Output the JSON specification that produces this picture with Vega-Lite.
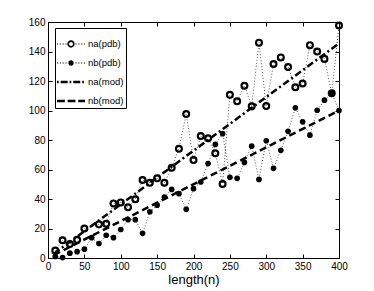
{
  "$schema": "https://vega.github.io/schema/vega-lite/v6.json",
  "width": 291,
  "height": 236,
  "autosize": "none",
  "padding": {"left": 48, "top": 22, "right": 35, "bottom": 33},
  "background": "white",
  "config": {
    "view": {"stroke": "black", "strokeWidth": 1},
    "font": "Liberation Sans",
    "axis": {"grid": false, "domainColor": "black", "tickColor": "black", "labelColor": "black", "labelFont": "Liberation Sans", "labelFontSize": 10, "titleFont": "Liberation Sans", "titleColor": "black", "titleFontWeight": "normal"}
  },
  "data": {
    "values": [
      {"n": 10, "v": 5, "series": "na(pdb)"},
      {"n": 20, "v": 12, "series": "na(pdb)"},
      {"n": 30, "v": 9.5, "series": "na(pdb)"},
      {"n": 40, "v": 12.3, "series": "na(pdb)"},
      {"n": 50, "v": 20, "series": "na(pdb)"},
      {"n": 70, "v": 22.8, "series": "na(pdb)"},
      {"n": 80, "v": 23.2, "series": "na(pdb)"},
      {"n": 90, "v": 37, "series": "na(pdb)"},
      {"n": 100, "v": 37.7, "series": "na(pdb)"},
      {"n": 110, "v": 34.4, "series": "na(pdb)"},
      {"n": 120, "v": 39.8, "series": "na(pdb)"},
      {"n": 130, "v": 52.9, "series": "na(pdb)"},
      {"n": 140, "v": 51, "series": "na(pdb)"},
      {"n": 150, "v": 54, "series": "na(pdb)"},
      {"n": 160, "v": 51, "series": "na(pdb)"},
      {"n": 170, "v": 61.2, "series": "na(pdb)"},
      {"n": 180, "v": 74.1, "series": "na(pdb)"},
      {"n": 190, "v": 97.6, "series": "na(pdb)"},
      {"n": 200, "v": 66.4, "series": "na(pdb)"},
      {"n": 210, "v": 82.7, "series": "na(pdb)"},
      {"n": 220, "v": 81.2, "series": "na(pdb)"},
      {"n": 230, "v": 71, "series": "na(pdb)"},
      {"n": 240, "v": 50.2, "series": "na(pdb)"},
      {"n": 250, "v": 110.6, "series": "na(pdb)"},
      {"n": 260, "v": 106.3, "series": "na(pdb)"},
      {"n": 270, "v": 116.8, "series": "na(pdb)"},
      {"n": 280, "v": 102.8, "series": "na(pdb)"},
      {"n": 290, "v": 146, "series": "na(pdb)"},
      {"n": 300, "v": 103, "series": "na(pdb)"},
      {"n": 310, "v": 131.5, "series": "na(pdb)"},
      {"n": 320, "v": 136, "series": "na(pdb)"},
      {"n": 330, "v": 129.5, "series": "na(pdb)"},
      {"n": 340, "v": 115.8, "series": "na(pdb)"},
      {"n": 350, "v": 118.3, "series": "na(pdb)"},
      {"n": 360, "v": 144.3, "series": "na(pdb)"},
      {"n": 370, "v": 140, "series": "na(pdb)"},
      {"n": 380, "v": 135, "series": "na(pdb)"},
      {"n": 390, "v": 111.7, "series": "na(pdb)"},
      {"n": 400, "v": 157.6, "series": "na(pdb)"},
      {"n": 10, "v": 1, "series": "nb(pdb)"},
      {"n": 20, "v": 0.3, "series": "nb(pdb)"},
      {"n": 30, "v": 3.3, "series": "nb(pdb)"},
      {"n": 40, "v": 4.3, "series": "nb(pdb)"},
      {"n": 50, "v": 6, "series": "nb(pdb)"},
      {"n": 60, "v": 13.8, "series": "nb(pdb)"},
      {"n": 70, "v": 9.8, "series": "nb(pdb)"},
      {"n": 80, "v": 15.4, "series": "nb(pdb)"},
      {"n": 90, "v": 13.8, "series": "nb(pdb)"},
      {"n": 100, "v": 19.3, "series": "nb(pdb)"},
      {"n": 110, "v": 26, "series": "nb(pdb)"},
      {"n": 120, "v": 26, "series": "nb(pdb)"},
      {"n": 130, "v": 16.7, "series": "nb(pdb)"},
      {"n": 140, "v": 31.3, "series": "nb(pdb)"},
      {"n": 150, "v": 35.8, "series": "nb(pdb)"},
      {"n": 160, "v": 41.3, "series": "nb(pdb)"},
      {"n": 170, "v": 46.5, "series": "nb(pdb)"},
      {"n": 180, "v": 43.6, "series": "nb(pdb)"},
      {"n": 190, "v": 33, "series": "nb(pdb)"},
      {"n": 200, "v": 47, "series": "nb(pdb)"},
      {"n": 210, "v": 51.5, "series": "nb(pdb)"},
      {"n": 220, "v": 64, "series": "nb(pdb)"},
      {"n": 230, "v": 77, "series": "nb(pdb)"},
      {"n": 240, "v": 84.3, "series": "nb(pdb)"},
      {"n": 250, "v": 54.7, "series": "nb(pdb)"},
      {"n": 260, "v": 54, "series": "nb(pdb)"},
      {"n": 270, "v": 64.8, "series": "nb(pdb)"},
      {"n": 280, "v": 75.8, "series": "nb(pdb)"},
      {"n": 290, "v": 53.3, "series": "nb(pdb)"},
      {"n": 300, "v": 79.5, "series": "nb(pdb)"},
      {"n": 310, "v": 60.8, "series": "nb(pdb)"},
      {"n": 320, "v": 73, "series": "nb(pdb)"},
      {"n": 330, "v": 85.9, "series": "nb(pdb)"},
      {"n": 340, "v": 101.8, "series": "nb(pdb)"},
      {"n": 350, "v": 92.3, "series": "nb(pdb)"},
      {"n": 360, "v": 83.3, "series": "nb(pdb)"},
      {"n": 370, "v": 100.2, "series": "nb(pdb)"},
      {"n": 380, "v": 107, "series": "nb(pdb)"},
      {"n": 390, "v": 111.7, "series": "nb(pdb)"},
      {"n": 400, "v": 100, "series": "nb(pdb)"},
      {"n": 8, "v": 2.9, "series": "na(mod)"},
      {"n": 400, "v": 145.5, "series": "na(mod)"},
      {"n": 8, "v": 2, "series": "nb(mod)"},
      {"n": 400, "v": 100, "series": "nb(mod)"}
    ]
  },
  "resolve": {"axis": {"x": "independent", "y": "independent"}},
  "layer": [
    {
      "transform": [{"filter": "indexof(['na(pdb)','nb(pdb)'], datum.series) >= 0"}],
      "mark": {"type": "line", "stroke": "#555555", "strokeWidth": 1, "strokeDash": [1, 2]},
      "encoding": {
        "x": {"field": "n", "type": "quantitative", "scale": {"domain": [0, 400], "nice": false, "zero": false},
          "axis": {"orient": "bottom", "values": [0, 50, 100, 150, 200, 250, 300, 350, 400], "tickSize": -4, "labelPadding": 7, "labelFlush": false, "labelOverlap": false, "title": "length(n)", "titleFontSize": 13, "titlePadding": 2}},
        "y": {"field": "v", "type": "quantitative", "scale": {"domain": [0, 160], "nice": false, "zero": false},
          "axis": {"orient": "left", "values": [0, 20, 40, 60, 80, 100, 120, 140, 160], "tickSize": -4, "labelPadding": 7, "labelFlush": false, "labelOverlap": false, "title": null}},
        "detail": {"field": "series"}
      }
    },
    {
      "transform": [{"filter": "datum.series == 'na(pdb)'"}],
      "mark": {"type": "point", "shape": "circle", "filled": false, "stroke": "black", "strokeWidth": 2.2, "size": 34, "opacity": 1},
      "encoding": {
        "x": {"field": "n", "type": "quantitative", "axis": null},
        "y": {"field": "v", "type": "quantitative", "axis": null}
      }
    },
    {
      "transform": [{"filter": "datum.series == 'nb(pdb)'"}],
      "mark": {"type": "circle", "color": "black", "size": 32, "opacity": 1},
      "encoding": {
        "x": {"field": "n", "type": "quantitative", "axis": null},
        "y": {"field": "v", "type": "quantitative", "axis": null}
      }
    },
    {
      "transform": [{"filter": "datum.series == 'na(mod)'"}],
      "mark": {"type": "line", "stroke": "black", "strokeWidth": 2.5, "strokeDash": [7, 3, 2, 3]},
      "encoding": {
        "x": {"field": "n", "type": "quantitative", "axis": null},
        "y": {"field": "v", "type": "quantitative", "axis": null}
      }
    },
    {
      "transform": [{"filter": "datum.series == 'nb(mod)'"}],
      "mark": {"type": "line", "stroke": "black", "strokeWidth": 2.5, "strokeDash": [7, 4]},
      "encoding": {
        "x": {"field": "n", "type": "quantitative",
          "axis": {"orient": "top", "values": [0, 50, 100, 150, 200, 250, 300, 350, 400], "tickSize": -4, "labels": false, "title": null}},
        "y": {"field": "v", "type": "quantitative",
          "axis": {"orient": "right", "values": [0, 20, 40, 60, 80, 100, 120, 140, 160], "tickSize": -4, "labels": false, "title": null}}
      }
    },
    {
      "transform": [{"filter": "false"}],
      "mark": {"type": "point", "filled": true, "color": "black", "opacity": 1},
      "encoding": {
        "x": {"field": "n", "type": "quantitative", "axis": null},
        "y": {"field": "v", "type": "quantitative", "axis": null},
        "shape": {
          "field": "series",
          "type": "nominal",
          "scale": {
            "domain": ["na(pdb)", "nb(pdb)", "na(mod)", "nb(mod)"],
            "range": [
              "M-1,-0.04h0.08v0.08h-0.08ZM-0.8,-0.04h0.08v0.08h-0.08ZM-0.6,-0.04h0.08v0.08h-0.08ZM-0.4,-0.04h0.08v0.08h-0.08ZM0.32,-0.04h0.08v0.08h-0.08ZM0.52,-0.04h0.08v0.08h-0.08ZM0.72,-0.04h0.08v0.08h-0.08ZM0.92,-0.04h0.08v0.08h-0.08ZM0.26,0A0.26,0.26,0,1,1,-0.26,0A0.26,0.26,0,1,1,0.26,0ZM0.14,0A0.14,0.14,0,1,0,-0.14,0A0.14,0.14,0,1,0,0.14,0Z",
              "M-1,-0.04h0.08v0.08h-0.08ZM-0.8,-0.04h0.08v0.08h-0.08ZM-0.6,-0.04h0.08v0.08h-0.08ZM-0.4,-0.04h0.08v0.08h-0.08ZM0.32,-0.04h0.08v0.08h-0.08ZM0.52,-0.04h0.08v0.08h-0.08ZM0.72,-0.04h0.08v0.08h-0.08ZM0.92,-0.04h0.08v0.08h-0.08ZM0.19,0A0.19,0.19,0,1,1,-0.19,0A0.19,0.19,0,1,1,0.19,0Z",
              "M-1,-0.09h0.12v0.18h-0.12ZM-0.74,-0.09h0.5v0.18h-0.5ZM-0.1,-0.09h0.12v0.18h-0.12ZM0.16,-0.09h0.5v0.18h-0.5ZM0.8,-0.09h0.12v0.18h-0.12Z",
              "M-1,-0.09h0.56v0.18h-0.56ZM-0.24,-0.09h0.56v0.18h-0.56ZM0.52,-0.09h0.48v0.18h-0.48Z"
            ]
          },
          "legend": {
            "orient": "none", "legendX": 7, "legendY": 6, "title": null,
            "symbolSize": 784, "symbolFillColor": "black", "symbolStrokeColor": "black", "symbolStrokeWidth": 0, "symbolOpacity": 1,
            "labelFont": "Liberation Sans", "labelFontSize": 9.5, "labelColor": "black", "labelOffset": 3,
            "strokeColor": "black", "fillColor": "white", "padding": 2, "rowPadding": -4
          }
        }
      }
    }
  ]
}
